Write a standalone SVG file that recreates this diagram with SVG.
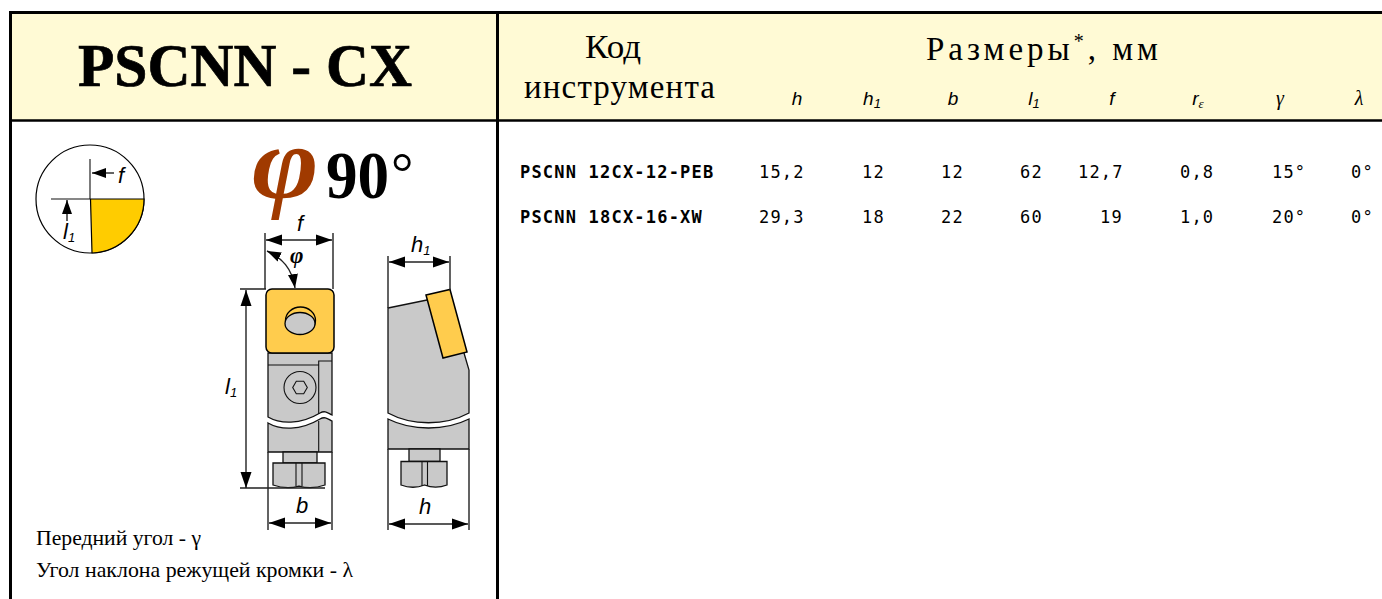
<svg xmlns="http://www.w3.org/2000/svg" width="1382" height="599" viewBox="0 0 1382 599">
<defs>
<marker id="arr" markerUnits="userSpaceOnUse" markerWidth="17" markerHeight="13" refX="16" refY="6.5" orient="auto-start-reverse"><path d="M0 1L16 6.5L0 12z" fill="#000"/></marker>
<marker id="arrS" markerUnits="userSpaceOnUse" markerWidth="15" markerHeight="12" refX="14" refY="6" orient="auto-start-reverse"><path d="M0 1L14 6L0 11z" fill="#000"/></marker>
</defs>
<style>
.ser{font-family:"Liberation Serif","Times New Roman",serif;fill:#000}
.it{font-family:"Liberation Sans",Arial,sans-serif;font-style:italic;fill:#000;font-size:19px}
.dl{font-size:22px}
.mono{font-family:"DejaVu Sans Mono","Liberation Mono",monospace;font-size:17px;fill:#000;letter-spacing:1.2px}
.code{font-weight:bold}
.b{fill:#c9c9c9;stroke:#111;stroke-width:1.3}
.y{fill:#ffcc4d;stroke:#000;stroke-width:1.5}
.l{fill:none;stroke:#111;stroke-width:1.1}
.d{fill:none;stroke:#222;stroke-width:1.4}
.sm{font-size:13px}
</style>
<rect width="1382" height="599" fill="#fff"/>
<rect x="10" y="12" width="1372" height="109" fill="#fffad5"/>
<g id="frame" fill="none" stroke="#000">
<path d="M10.500 599V12.500H1382" stroke-width="3"/>
<path d="M497.500 12V599" stroke-width="3"/>
<path d="M10 120.500H1382" stroke-width="2.500"/>
</g>
<g id="title"><text class="ser" x="78" y="86" font-size="62" font-weight="bold" stroke="#000" stroke-width=".7" textLength="334" lengthAdjust="spacingAndGlyphs">PSCNN - CX</text></g>
<g id="header">
<text class="ser" x="585" y="58" font-size="33" textLength="56" lengthAdjust="spacingAndGlyphs">Код</text>
<text class="ser" x="524" y="98" font-size="33" textLength="191">инструмента</text>
<text class="ser" x="926" y="60" font-size="33" textLength="232">Размеры<tspan font-size="20" dy="-12">*</tspan><tspan dy="12">, мм</tspan></text>
<text class="it" x="797" y="105" text-anchor="middle">h</text>
<text class="it" x="872" y="105" text-anchor="middle">h<tspan class="sm" dy="3">1</tspan></text>
<text class="it" x="953" y="105" text-anchor="middle">b</text>
<text class="it" x="1034" y="105" text-anchor="middle">l<tspan class="sm" dy="3">1</tspan></text>
<text class="it" x="1112" y="105" text-anchor="middle">f</text>
<text class="it" x="1198" y="105" text-anchor="middle">r<tspan class="sm" font-family="Liberation Serif" dy="3">ε</tspan></text>
<text class="ser" x="1280" y="105" font-size="20" font-style="italic" text-anchor="middle">γ</text>
<text class="ser" x="1359" y="105" font-size="20" font-style="italic" text-anchor="middle">λ</text>
</g>
<g id="row1">
<text class="mono code" x="520" y="178">PSCNN 12CX-12-PEB</text>
<text class="mono" x="759" y="178">15,2</text><text class="mono" x="862" y="178">12</text><text class="mono" x="941" y="178">12</text><text class="mono" x="1020" y="178">62</text><text class="mono" x="1078" y="178">12,7</text><text class="mono" x="1180" y="178">0,8</text><text class="mono" x="1272" y="178">15°</text><text class="mono" x="1351" y="178">0°</text>
</g>
<g id="row2">
<text class="mono code" x="520" y="223">PSCNN 18CX-16-XW</text>
<text class="mono" x="759" y="223">29,3</text><text class="mono" x="862" y="223">18</text><text class="mono" x="941" y="223">22</text><text class="mono" x="1020" y="223">60</text><text class="mono" x="1100" y="223">19</text><text class="mono" x="1180" y="223">1,0</text><text class="mono" x="1272" y="223">20°</text><text class="mono" x="1351" y="223">0°</text>
</g>
<g id="angle">
<text class="ser" transform="translate(252 198) scale(1.14 1.04)" font-size="100" font-style="italic" font-weight="bold" style="fill:#a03a00">φ</text>
<text class="ser" transform="translate(326 198) scale(.93 1)" font-size="68" font-weight="bold">90</text>
<text class="ser" x="391" y="192" font-size="56">°</text>
</g>
<g id="quadrant">
<circle cx="90" cy="199" r="54" fill="#fff" stroke="#000" stroke-width="1.2"/>
<path d="M90.500 199H144A54 54 0 0 1 92 253z" fill="#ffcc00" stroke="#000" stroke-width="1.2"/>
<path class="l" d="M90 159V199M51 199H90"/>
<path class="d" d="M114 173H92" marker-end="url(#arrS)"/>
<path class="d" d="M67 221V200" marker-end="url(#arrS)"/>
<text class="it dl" x="118" y="183">f</text>
<text class="it dl" x="63" y="239">l<tspan class="sm" dy="3">1</tspan></text>
</g>
<g id="top-view">
<path class="b" d="M268 353H332V415C328 413 325 410 320 413C300 425 280 424 268 417z"/>
<path class="b" d="M268 423C280 430 300 431 320 419C325 416 328 419 332 421V452H268z"/>
<path class="l" d="M268 365H318.700V361H332M318.700 361V414M318.700 421V452"/>
<circle class="l" cx="300" cy="387.500" r="16"/>
<path class="l" d="M292.700 387.500L296.300 381.200H303.700L307.300 387.500L303.700 393.800H296.300z"/>
<rect class="y" x="266" y="289" width="68" height="64" rx="6"/>
<ellipse cx="300.500" cy="320.500" rx="15" ry="13.500" fill="#ffcc4d" stroke="#000" stroke-width="1.300"/>
<ellipse cx="300" cy="323.500" rx="15" ry="11" fill="#c9c9c9" stroke="#000" stroke-width="1.300"/>
<path class="b" d="M283 452H317V463H283z"/>
<path class="b" d="M273 463H325V485C316 488 306 488 299 486C292 488 282 488 273 485z"/>
<path class="l" d="M296 463V486M302 463V486"/>
</g>
<g id="side-view">
<path class="b" d="M388 308L427 300L450 300L464 353L469 370V413C445 426 412 426 388 413z"/>
<path class="b" d="M388 419C412 431 445 431 469 419V449H388z"/>
<path class="y" d="M426 295L450 289.500L467 352L443 358z"/>
<path class="b" d="M409 449H440V461.500H409z"/>
<path class="b" d="M401 461.500H447V485C439 488 432 488 424.500 485C417 488 409 488 401 485z"/>
<path class="l" d="M422 461.500V486M427.500 461.500V486"/>
</g>
<g id="dimensions">
<path class="d" d="M265 233V289M333 233V289"/>
<path class="d" d="M266 240H332" marker-start="url(#arr)" marker-end="url(#arr)"/>
<path class="d" d="M267 251C282 258 292 268 295 288" marker-start="url(#arrS)" marker-end="url(#arrS)"/>
<path class="d" d="M240 289H266M240 488H325"/>
<path class="d" d="M246 290V488" marker-start="url(#arr)" marker-end="url(#arr)"/>
<path class="d" d="M268 452V530M332 452V530"/>
<path class="d" d="M269 523H331" marker-start="url(#arr)" marker-end="url(#arr)"/>
<path class="d" d="M388 256V308M450 256V290"/>
<path class="d" d="M389 262H449" marker-start="url(#arr)" marker-end="url(#arr)"/>
<path class="d" d="M388 449V530M469 449V530"/>
<path class="d" d="M389 524H468" marker-start="url(#arr)" marker-end="url(#arr)"/>
<text class="it dl" x="297" y="231">f</text>
<text x="290" y="263" font-family="Liberation Serif" font-size="23" font-weight="bold" font-style="italic">φ</text>
<text class="it dl" x="225" y="394">l<tspan class="sm" dy="3">1</tspan></text>
<text class="it dl" x="296" y="513">b</text>
<text class="it dl" x="411" y="252">h<tspan class="sm" dy="3">1</tspan></text>
<text class="it dl" x="419" y="514">h</text>
</g>
<g id="notes">
<text class="ser" x="36" y="545" font-size="21" textLength="165" lengthAdjust="spacingAndGlyphs">Передний угол - γ</text>
<text class="ser" x="36" y="577" font-size="21" textLength="317" lengthAdjust="spacingAndGlyphs">Угол наклона режущей кромки - λ</text>
</g>
</svg>
